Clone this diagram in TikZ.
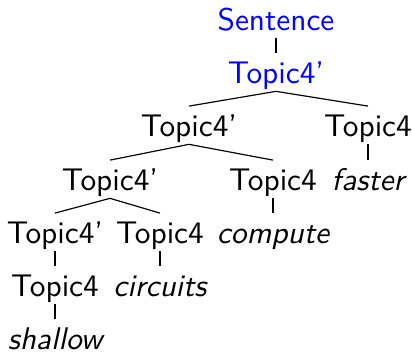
\documentclass[tikz,border=0pt]{standalone}
\usetikzlibrary{calc}
\definecolor{HeadClr}{rgb}{0,0,1}

\begin{document}
\begin{tikzpicture}[x=0.34pt,y=-0.34pt,font=\sffamily\fontsize{10.65}{13}\selectfont,
  cat/.style={anchor=base,inner sep=0pt,text height=10.3pt,text depth=2.3pt},
  word/.style={cat,font=\sffamily\itshape\fontsize{10.65}{13}\selectfont},
  head/.style={cat,text=HeadClr}]
\useasboundingbox (0,0) rectangle (412,352);

\node[head] (sent) at (276,31) {Sentence};
\node[head] (t2) at (276,84) {Topic4'};

\node[cat] (t3a) at (189,137) {Topic4'};
\node[cat] (t3b) at (368,137) {Topic4};

\node[cat] (t4a) at (110,191) {Topic4'};
\node[cat] (t4b) at (273,191) {Topic4};
\node[word] (fast) at (368,191) {faster};

\node[cat] (t5a) at (55,244) {Topic4'};
\node[cat] (t5b) at (160,244) {Topic4};
\node[word] (comp) at (273,244) {compute};

\node[cat] (t6a) at (55,297) {Topic4};
\node[word] (circ) at (160,297) {circuits};

\node[word] (shal) at (55,350) {shallow};

\draw (sent.south) -- (t2.north);
\draw (t2.south) -- (t3a.north) (t2.south) -- (t3b.north);
\draw (t3a.south) -- (t4a.north) (t3a.south) -- (t4b.north);
\draw (t3b.south) -- (fast.north);
\draw (t4a.south) -- (t5a.north) (t4a.south) -- (t5b.north);
\draw (t4b.south) -- (comp.north);
\draw (t5a.south) -- (t6a.north);
\draw (t5b.south) -- (circ.north);
\draw (t6a.south) -- (shal.north);

\end{tikzpicture}
\end{document}
